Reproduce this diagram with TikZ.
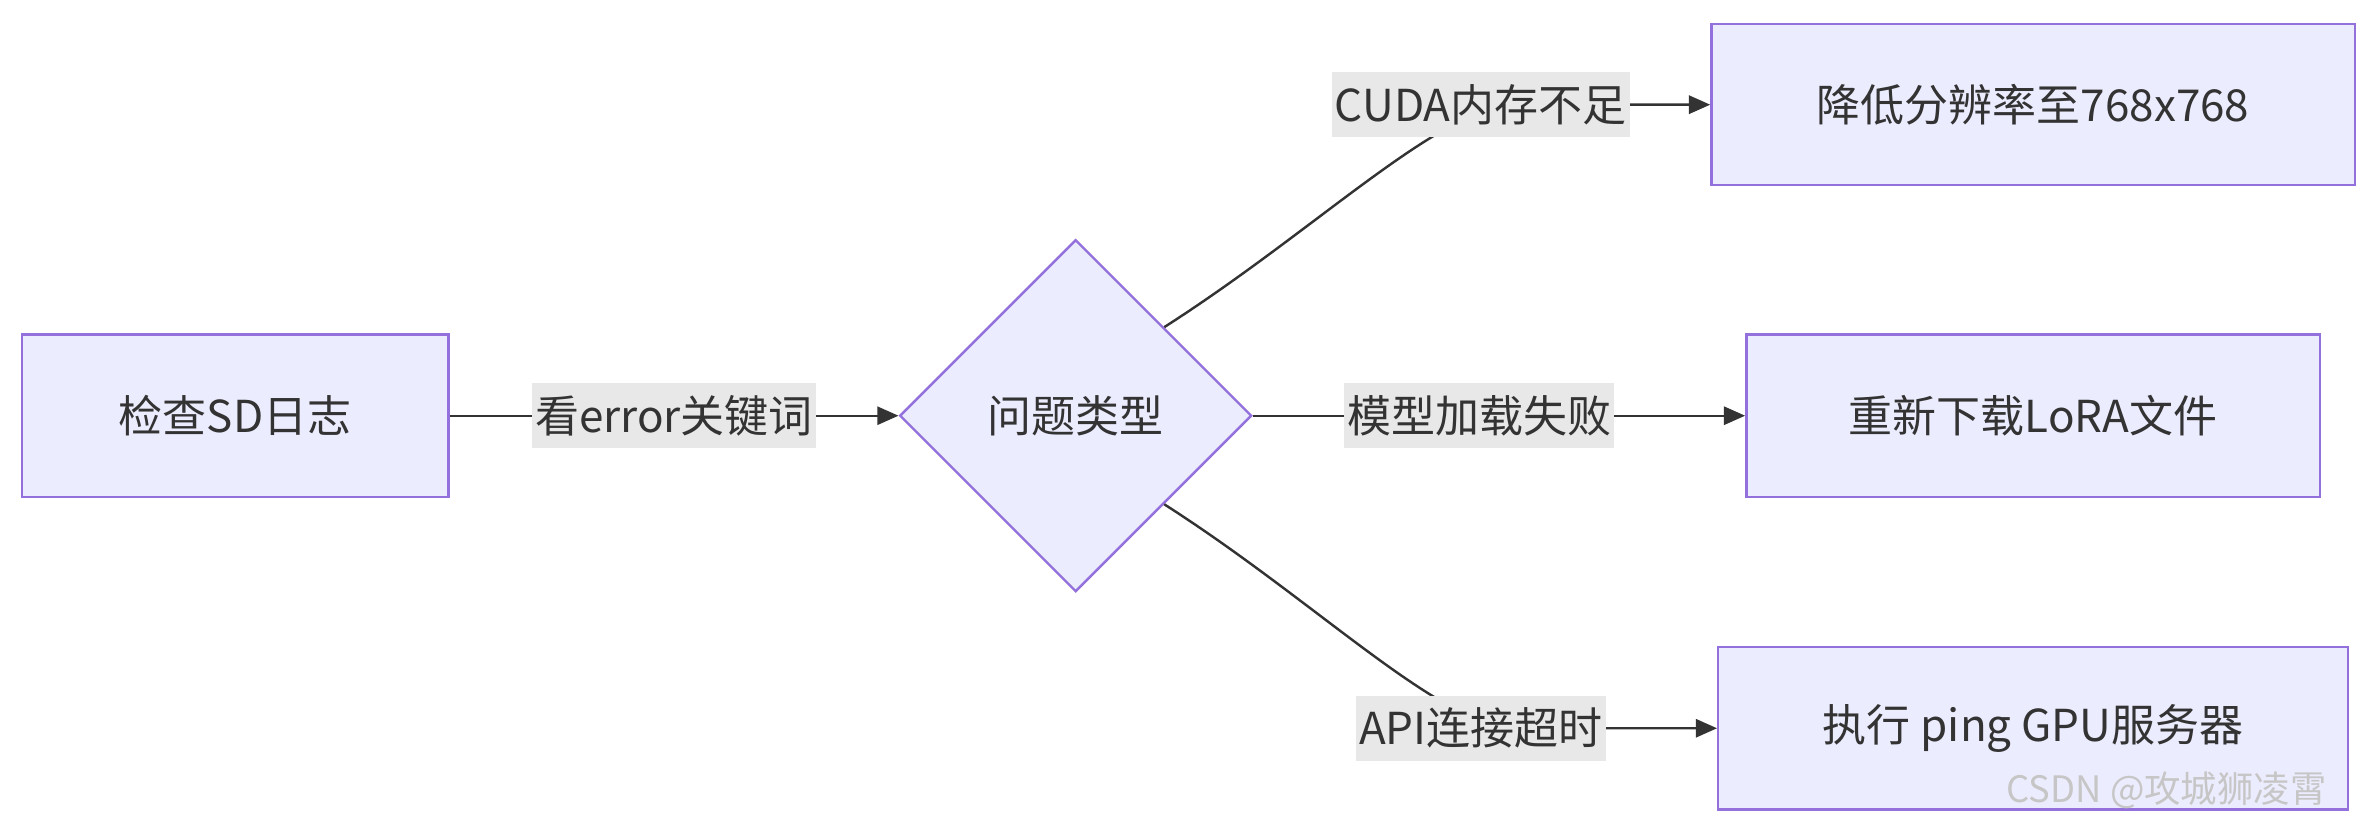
\documentclass[tikz,border=0pt]{standalone}
\usepackage{fontspec}
\setmainfont{Noto Sans CJK SC}
\usetikzlibrary{shapes.geometric,arrows.meta}
\definecolor{boxfill}{HTML}{ECECFF}
\definecolor{boxline}{HTML}{9370DB}
\definecolor{labbg}{HTML}{E8E8E8}
\definecolor{edgec}{HTML}{333333}
\tikzset{
  stepbox/.style={draw=boxline, fill=boxfill, line width=0.8pt, inner sep=0pt, font=\fontsize{14.5}{17}\selectfont, text=edgec},
  choice/.style={draw=boxline, fill=boxfill, line width=0.8pt, diamond, aspect=1, minimum width=116pt, minimum height=116pt, inner sep=0pt, font=\fontsize{14.5}{17}\selectfont, text=edgec},
  lab/.style={fill=labbg, inner xsep=1pt, inner ysep=4pt, font=\fontsize{14.5}{17}\selectfont, text=edgec},
  flow/.style={draw=edgec, line width=0.8pt, -{Triangle[length=7pt,width=6pt]}}
}
\begin{document}
\begin{tikzpicture}[x=0.5pt, y=-0.5pt]
        \useasboundingbox (0, 0) rectangle (1568, 550);
        \node[stepbox, minimum width=140.5pt, minimum height=53.5pt] (log) at (155, 274) {检查SD日志};
        \node[choice] (kind) at (709, 274) {问题类型};
        \node[stepbox, minimum width=212pt, minimum height=53pt] (res) at (1340, 69) {降低分辨率至768x768};
        \node[stepbox, minimum width=189pt, minimum height=53.5pt] (lora) at (1340, 274) {重新下载LoRA文件};
        \node[stepbox, minimum width=207.5pt, minimum height=53.5pt] (ping) at (1340, 480) {执行 ping GPU服务器};

        % edges
        \draw[flow] (log) -- (kind) node[lab, midway] {看error关键词};
        \draw[flow] (kind.north east) .. controls (870, 150) and (950, 69) .. (1000, 69) -- (res.west);
        \node[lab] (cuda) at (976, 69) {CUDA内存不足};
        \draw[flow] (kind.east) -- (lora.west) node[lab, pos=0.46] {模型加载失败};
        \draw[flow] (kind.south east) .. controls (870, 398) and (950, 480) .. (1000, 480) -- (ping.west);
        \node[lab] (api) at (976, 480) {API连接超时};

        \node[text=gray!45, font=\fontsize{12}{14}\selectfont] (mark) at (1428, 521) {CSDN @攻城狮凌霄};
\end{tikzpicture}
\end{document}
